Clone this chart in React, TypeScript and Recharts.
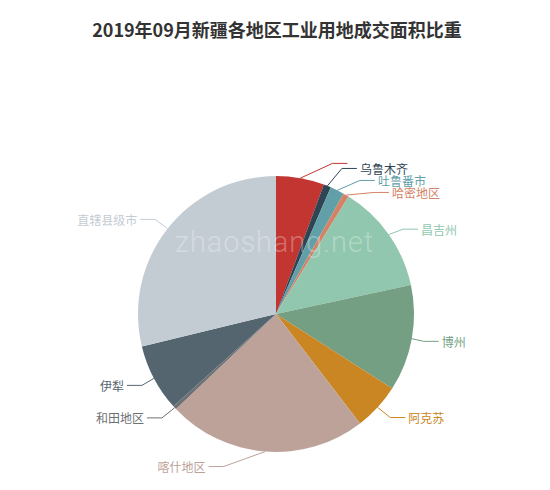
import { PieChart, Pie, Cell } from 'recharts';

const regions = ['', '乌鲁木齐', '吐鲁番市', '哈密地区', '昌吉州', '博州', '阿克苏', '喀什地区', '和田地区', '伊犁', '直辖县级市'];
const shares = [5.64, 0.86, 1.64, 0.67, 12.83, 12.44, 5.5, 23.33, 0.42, 7.89, 28.78];
const colors = ['#c23531', '#2f4554', '#61a0a8', '#d48265', '#91c7ae', '#749f83', '#ca8622', '#bda29a', '#6e7074', '#546570', '#c4ccd3'];

const data = regions.map((name, i) => ({ name, value: shares[i] }));

const CX = 276;
const CY = 314;
const R = 138;
const LEN = 15;
const LEN2 = 15;
const FONT = '"Noto Sans CJK SC", "Microsoft YaHei", sans-serif';

type Item = { i: number; x: number; y: number; h: number; dir: number };

// echarts-style label placement, so the small slices don't overlap
function layoutLabels() {
  const total = shares.reduce((a, b) => a + b, 0);
  let acc = 0;
  const items: Item[] = shares.map((v, i) => {
    const mid = ((acc + v / 2) / total) * Math.PI * 2;
    acc += v;
    const dx = Math.sin(mid);
    const dy = -Math.cos(mid);
    const dir = dx < 0 ? -1 : 1;
    const x2 = CX + dx * (R + LEN);
    return { i, x: x2 + dir * (LEN2 + 5), y: CY + dy * (R + LEN), h: regions[i] ? 12 : 0, dir };
  });

  const side = (list: Item[], dir: number) => {
    list.sort((a, b) => a.y - b.y);
    const n = list.length;
    const shiftUp = (end: number, delta: number) => {
      for (let j = end; j >= 0; j--) {
        if (list[j].y - delta < 0) break;
        list[j].y -= delta;
        if (j > 0 && list[j].y > list[j - 1].y + list[j - 1].h) break;
      }
    };
    const shiftDown = (start: number, end: number, delta: number) => {
      for (let j = start; j < end; j++) {
        if (list[j].y + delta > 490) break;
        list[j].y += delta;
        if (j > start && j + 1 < end && list[j + 1].y > list[j].y + list[j].h) {
          shiftUp(j, delta / 2);
          return;
        }
      }
      shiftUp(end - 1, delta / 2);
    };
    let lastY = 0;
    for (let i = 0; i < n; i++) {
      const delta = list[i].y - lastY;
      if (delta < 0) shiftDown(i, n, -delta);
      lastY = list[i].y + list[i].h;
    }
    const changeX = (sub: Item[], down: boolean) => {
      let last = down ? Number.MAX_VALUE : 0;
      for (const it of sub) {
        const deltaY = Math.abs(it.y - CY);
        let deltaX = deltaY < R + LEN
          ? Math.sqrt((R + LEN + LEN2) ** 2 - deltaY * deltaY)
          : Math.abs(it.x - CX);
        if (down && deltaX >= last) deltaX = last - 10;
        if (!down && deltaX <= last) deltaX = last + 10;
        it.x = CX + deltaX * dir;
        last = deltaX;
      }
    };
    changeX(list.filter((it) => it.y < CY), false);
    changeX(list.filter((it) => it.y >= CY), true);
  };

  side(items.filter((it) => it.x >= CX), 1);
  side(items.filter((it) => it.x < CX), -1);
  return items;
}

const labelPos = layoutLabels();

const renderLabel = (props: any) => {
  const { cx, cy, midAngle, outerRadius, index } = props;
  const pos = labelPos[index];
  const rad = (-midAngle * Math.PI) / 180;
  const x1 = cx + outerRadius * Math.cos(rad);
  const y1 = cy + outerRadius * Math.sin(rad);
  const x3 = pos.x - 3 * pos.dir;
  const x2 = x3 - LEN2 * pos.dir;
  const color = colors[index];
  return (
    <g key={'lbl' + index}>
      <polyline
        points={`${x1},${y1} ${x2},${pos.y} ${x3},${pos.y}`}
        fill="none"
        stroke={color}
        strokeWidth={1}
      />
      <text
        x={pos.x}
        y={pos.y}
        fill={color}
        fontSize={12}
        fontFamily={FONT}
        textAnchor={pos.dir > 0 ? 'start' : 'end'}
        dominantBaseline="central"
      >
        {regions[index]}
      </text>
    </g>
  );
};

export default function App() {
  return (
    <div style={{ position: 'absolute', left: 0, top: 0, width: 550, height: 490, background: '#fff' }}>
      <div
        style={{
          position: 'absolute',
          left: 2,
          top: 20,
          width: 550,
          textAlign: 'center',
          fontFamily: FONT,
          fontWeight: 'bold',
          fontSize: 18,
          lineHeight: '18px',
          color: '#333',
        }}
      >
        2019年09月新疆各地区工业用地成交面积比重
      </div>
      <PieChart
        width={550}
        height={490}
        margin={{ top: 0, right: 0, bottom: 0, left: 0 }}
        style={{ position: 'absolute', left: 0, top: 0 }}
      >
        <Pie
          data={data}
          dataKey="value"
          nameKey="name"
          cx={CX}
          cy={CY}
          outerRadius={R}
          startAngle={90}
          endAngle={-270}
          stroke="none"
          label={renderLabel}
          labelLine={false}
          isAnimationActive={false}
        >
          {data.map((d, i) => (
            <Cell key={d.name + i} fill={colors[i]} />
          ))}
        </Pie>
      </PieChart>
      <svg width={550} height={490} style={{ position: 'absolute', left: 0, top: 0, pointerEvents: 'none' }}>
        <text x={175} y={252} fontFamily="Roboto" fontWeight={300} fontSize={29} fill="#fff" fillOpacity={0.3} textLength={198}>
          zhaoshang.net
        </text>
      </svg>
    </div>
  );
}
